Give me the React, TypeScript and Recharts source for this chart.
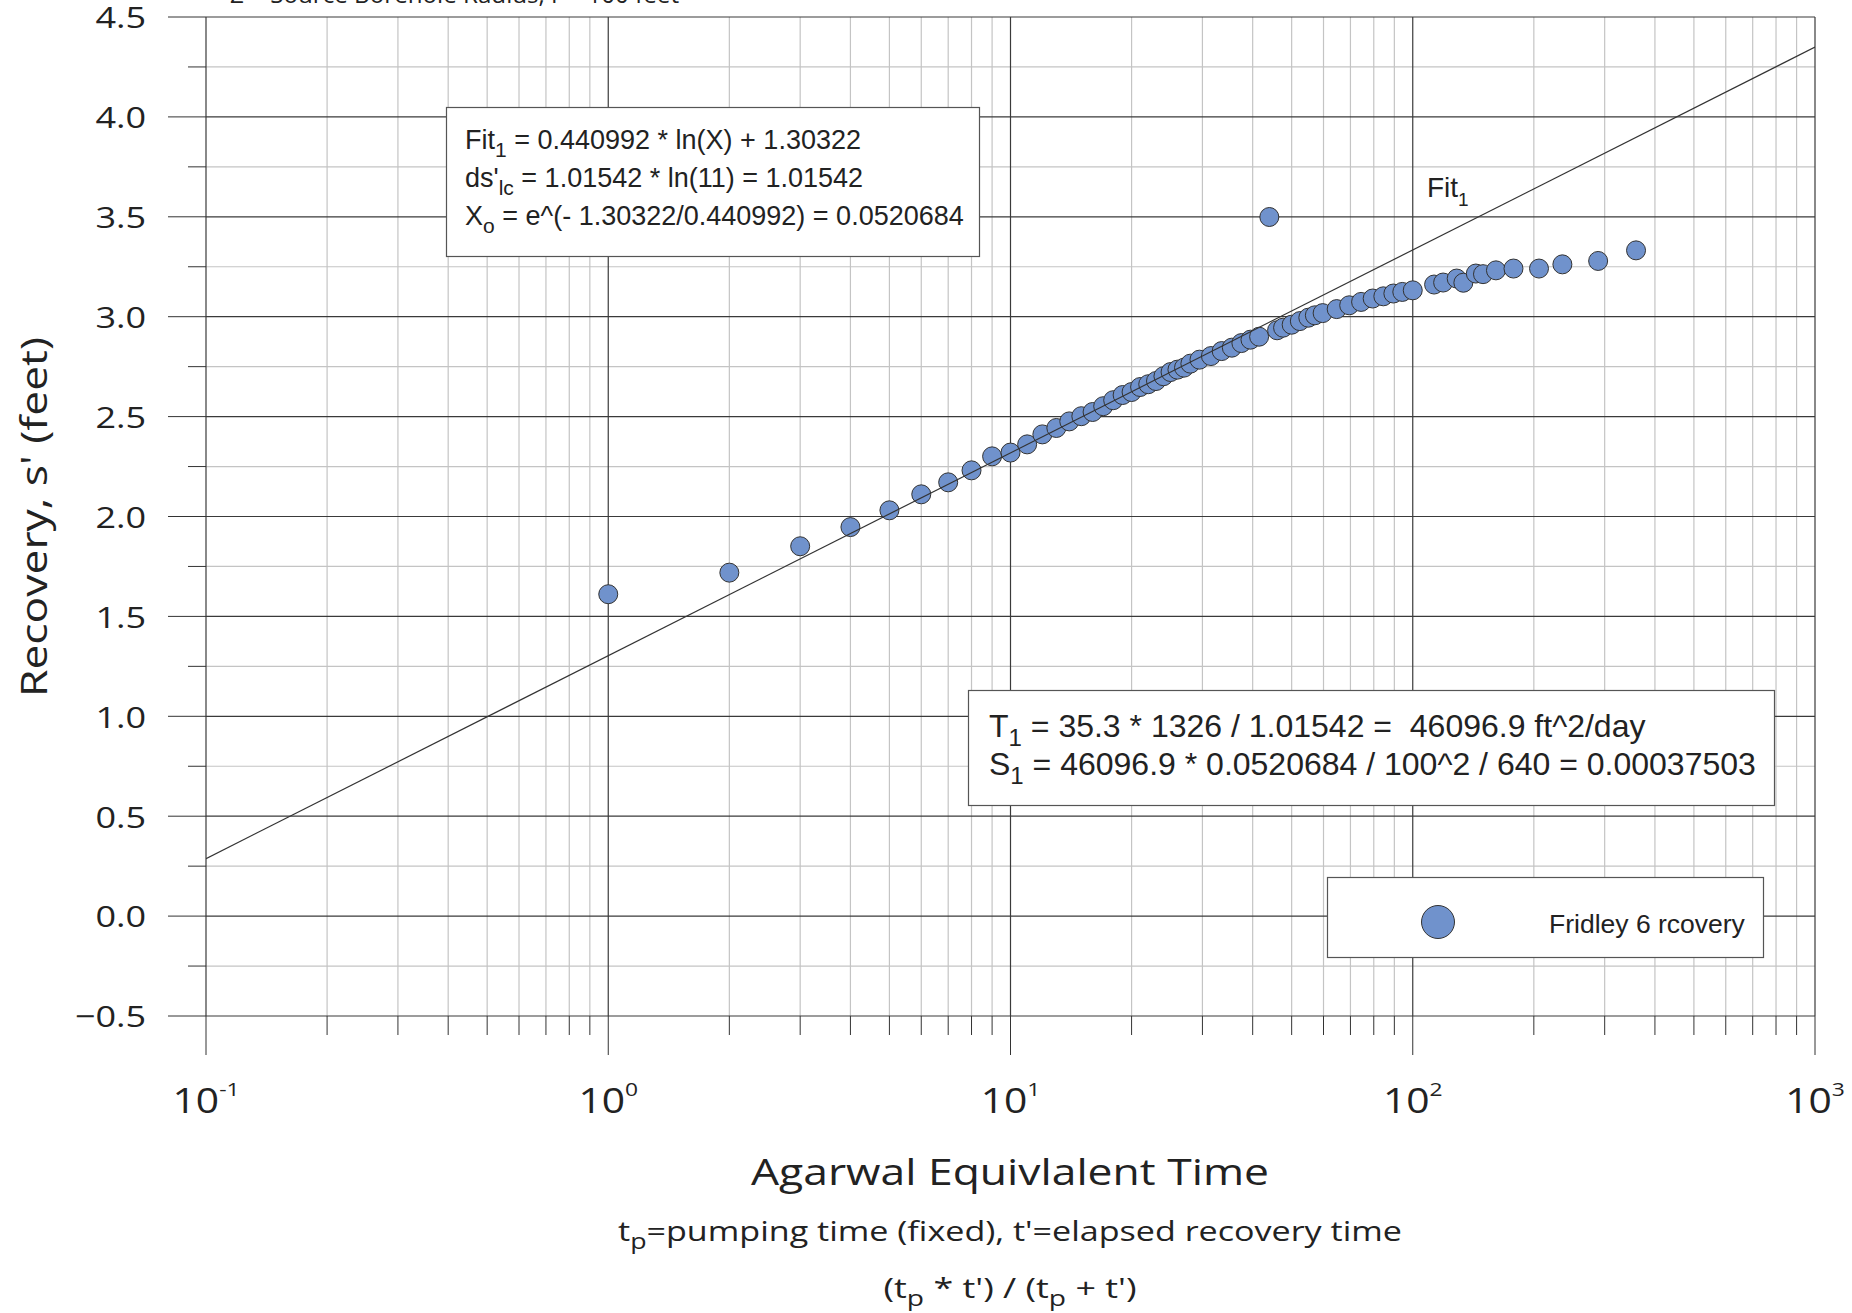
import { ScatterChart, Scatter, XAxis, YAxis, CartesianGrid } from "recharts";

// Agarwal equivalent time (x) and recovery s' in feet (y)
const agarwalTime = [
  1, 2, 3, 4, 5, 6, 7, 8, 9, 10, 11, 12, 13, 14, 15, 16, 17, 18, 19, 20, 21, 22, 23, 24, 25, 26, 27, 28, 29.5,
  31.5, 33.5, 35.5, 37.5, 39.5, 41.5, 44, 46, 47.6, 50, 52.4, 55, 57.1, 59.7, 64.7, 69.5, 74.4, 79.5, 84.5,
  89.5, 94.2, 100, 113, 119, 128.6, 133.6, 143.5, 149.5, 161, 178, 206, 235.5, 289, 359,
];
const recovery = [
  1.611, 1.719, 1.851, 1.947, 2.031, 2.111, 2.171, 2.231, 2.301, 2.32, 2.361, 2.411, 2.443, 2.476, 2.502, 2.523,
  2.552, 2.582, 2.608, 2.623, 2.648, 2.662, 2.678, 2.702, 2.723, 2.735, 2.745, 2.765, 2.785, 2.803, 2.828, 2.845,
  2.868, 2.885, 2.9, 3.499, 2.932, 2.945, 2.96, 2.978, 2.995, 3.007, 3.018, 3.038, 3.057, 3.074, 3.091, 3.102,
  3.116, 3.124, 3.132, 3.161, 3.171, 3.191, 3.17, 3.216, 3.213, 3.232, 3.241, 3.241, 3.262, 3.279, 3.332,
];

// Fit1 = 0.440992 * ln(X) + 1.30322, end points at the axis limits
const fitX = [0.1, 1000];
const fitY = [0.2878, 4.3495];

const xMajorTicks = [0.1, 1, 10, 100, 1000];
const xMinorTicks = [
  0.2, 0.3, 0.4, 0.5, 0.6, 0.7, 0.8, 0.9, 2, 3, 4, 5, 6, 7, 8, 9, 20, 30, 40, 50, 60, 70, 80, 90, 200, 300, 400,
  500, 600, 700, 800, 900,
];
const xTickExponents = ["-1", "0", "1", "2", "3"];
const yMajorTicks = [-0.5, 0, 0.5, 1, 1.5, 2, 2.5, 3, 3.5, 4, 4.5];
const yMinorTicks = [-0.25, 0.25, 0.75, 1.25, 1.75, 2.25, 2.75, 3.25, 3.75, 4.25];

const points = agarwalTime.map((x, i) => ({ x, y: recovery[i] }));
const fitLine = fitX.map((x, i) => ({ x, y: fitY[i] }));

const axisFont = "'Open Sans', sans-serif";
const boxFont = "'Liberation Sans', Arial, sans-serif";
const dotFill = "#7092cc";
const stretch = "spacingAndGlyphs";

function XTick({ x, y, payload }: any) {
  const idx = xMajorTicks.indexOf(payload.value);
  const major = idx >= 0;
  return (
    <g>
      <line x1={x} x2={x} y1={y} y2={y + (major ? 39 : 19)} stroke="#333" strokeWidth={1} />
      {major && (
        <text
          transform={`translate(${x},${y + 97}) scale(1.2,1)`}
          textAnchor="middle"
          fontFamily={axisFont}
          fontSize={34}
          fill="#222"
        >
          10
          <tspan dy={-17} fontSize={19}>
            {xTickExponents[idx]}
          </tspan>
        </text>
      )}
    </g>
  );
}

function YTick({ x, y, payload }: any) {
  const major = yMajorTicks.includes(payload.value);
  const label = payload.value < 0 ? "\u2212" + Math.abs(payload.value).toFixed(1) : payload.value.toFixed(1);
  return (
    <g>
      <line x1={x - (major ? 38 : 18)} x2={x} y1={y} y2={y} stroke="#333" strokeWidth={1} />
      {major && (
        <text
          transform={`translate(${x - 60},${y}) scale(1.2,1)`}
          textAnchor="end"
          dominantBaseline="central"
          fontFamily={axisFont}
          fontSize={30}
          fill="#222"
        >
          {label}
        </text>
      )}
    </g>
  );
}

function Dot(props: any) {
  return <circle cx={props.cx} cy={props.cy} r={9.5} fill={dotFill} stroke="#333" strokeWidth={1} />;
}

export default function App() {
  return (
    <div style={{ position: "absolute", left: 0, top: 0, width: 1852, height: 1313, background: "#fff", overflow: "hidden" }}>
      <ScatterChart width={1852} height={1313} margin={{ top: 17, right: 37, bottom: 0, left: 0 }}>
        <CartesianGrid horizontalValues={yMinorTicks} verticalValues={xMinorTicks} stroke="#c4c4c4" strokeWidth={1.2} />
        <CartesianGrid horizontalValues={yMajorTicks} verticalValues={xMajorTicks} stroke="#3a3a3a" strokeWidth={1.2} />
        <XAxis
          type="number"
          dataKey="x"
          scale="log"
          domain={[0.1, 1000]}
          allowDataOverflow
          ticks={[...xMajorTicks, ...xMinorTicks]}
          interval={0}
          height={297}
          axisLine={false}
          tickLine={false}
          tickSize={0}
          tickMargin={0}
          tick={<XTick />}
        />
        <YAxis
          type="number"
          dataKey="y"
          domain={[-0.5, 4.5]}
          allowDataOverflow
          ticks={[...yMajorTicks, ...yMinorTicks]}
          interval={0}
          width={206}
          axisLine={false}
          tickLine={false}
          tickSize={0}
          tickMargin={0}
          tick={<YTick />}
        />
        <Scatter data={points} shape={<Dot />} isAnimationActive={false} />
        <Scatter
          data={fitLine}
          line={{ stroke: "#333", strokeWidth: 1.2 }}
          shape={() => <g />}
          isAnimationActive={false}
        />
      </ScatterChart>

      <svg width={1852} height={1313} style={{ position: "absolute", left: 0, top: 0, pointerEvents: "none" }}>
        <text x={230} y={3} fontFamily={axisFont} fontSize={24} fill="#222" textLength={449} lengthAdjust={stretch}>
          Z = Source Borehole Radius, r = 100 feet
        </text>

        <rect x={446.5} y={107.5} width={533} height={149} fill="#fff" stroke="#555" strokeWidth={1.2} />
        <g fontFamily={boxFont} fontSize={27} fill="#222">
          <text x={465} y={149}>
            Fit<tspan dy={8} fontSize={21}>1</tspan>
            <tspan dy={-8}> = 0.440992 * ln(X) + 1.30322</tspan>
          </text>
          <text x={465} y={187}>
            ds'<tspan dy={8} fontSize={21}>lc</tspan>
            <tspan dy={-8}> = 1.01542 * ln(11) = 1.01542</tspan>
          </text>
          <text x={465} y={225}>
            X<tspan dy={8} fontSize={21}>o</tspan>
            <tspan dy={-8}> = e^(- 1.30322/0.440992) = 0.0520684</tspan>
          </text>
        </g>

        <rect x={968.5} y={690.5} width={806} height={115} fill="#fff" stroke="#555" strokeWidth={1.2} />
        <g fontFamily={boxFont} fontSize={32} fill="#222">
          <text x={989} y={737} xmlSpace="preserve">
            T<tspan dy={9} fontSize={24}>1</tspan>
            <tspan dy={-9}> = 35.3 * 1326 / 1.01542 =  46096.9 ft^2/day</tspan>
          </text>
          <text x={989} y={775}>
            S<tspan dy={9} fontSize={24}>1</tspan>
            <tspan dy={-9}> = 46096.9 * 0.0520684 / 100^2 / 640 = 0.00037503</tspan>
          </text>
        </g>

        <text x={1427} y={197} fontFamily={boxFont} fontSize={28} fill="#222">
          Fit<tspan dy={9} fontSize={19}>1</tspan>
        </text>

        <rect x={1327.5} y={877.5} width={436} height={80} fill="#fff" stroke="#555" strokeWidth={1.2} />
        <circle cx={1438} cy={922} r={16.5} fill={dotFill} stroke="#333" strokeWidth={1} />
        <text x={1549} y={933} fontFamily={boxFont} fontSize={26.5} fill="#222">
          Fridley 6 rcovery
        </text>

        <text
          x={32}
          y={517}
          transform="rotate(-90 32 517)"
          textAnchor="middle"
          dominantBaseline="central"
          fontFamily={axisFont}
          fontSize={37}
          fill="#222"
          textLength={360}
          lengthAdjust={stretch}
        >
          Recovery, s' (feet)
        </text>

        <text
          x={1010}
          y={1185}
          textAnchor="middle"
          fontFamily={axisFont}
          fontSize={36}
          fill="#222"
          textLength={518}
          lengthAdjust={stretch}
        >
          Agarwal Equivlalent Time
        </text>
        <text
          x={1010}
          y={1241}
          textAnchor="middle"
          fontFamily={axisFont}
          fontSize={28}
          fill="#222"
          textLength={784}
          lengthAdjust={stretch}
        >
          t<tspan dy={8} fontSize={22}>p</tspan>
          <tspan dy={-8}>=pumping time (fixed), t'=elapsed recovery time</tspan>
        </text>
        <text
          x={1010}
          y={1298}
          textAnchor="middle"
          fontFamily={axisFont}
          fontSize={28}
          fill="#222"
          textLength={253}
          lengthAdjust={stretch}
        >
          (t<tspan dy={8} fontSize={22}>p</tspan>
          <tspan dy={-8}> * t') / (t</tspan>
          <tspan dy={8} fontSize={22}>p</tspan>
          <tspan dy={-8}> + t')</tspan>
        </text>
      </svg>
    </div>
  );
}
